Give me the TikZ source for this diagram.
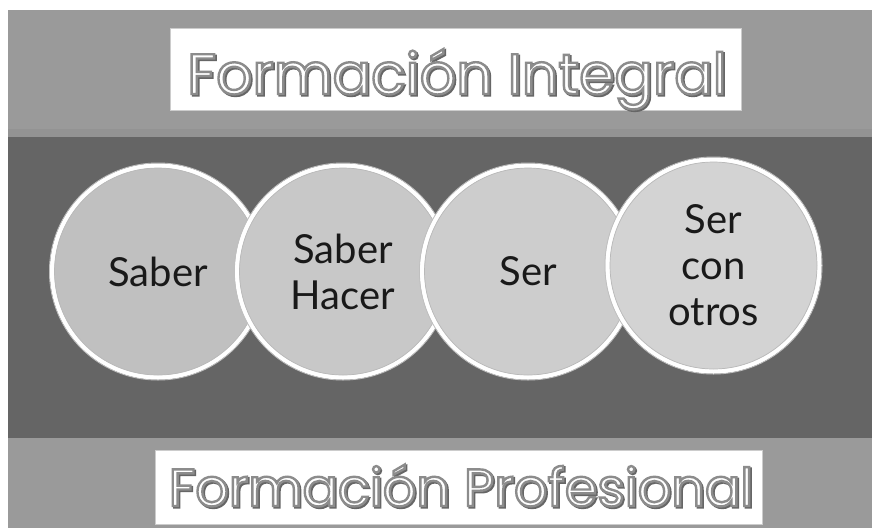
\documentclass[tikz,border=0pt]{standalone}
\usepackage{fontspec}
\setmainfont{Lato}
\newfontfamily\titlefont{Poppins}

\definecolor{bandgray}{HTML}{9A9A9A}
\definecolor{seamgray}{HTML}{939393}
\definecolor{deepgray}{HTML}{656565}
\definecolor{discA}{HTML}{C0C0C0}
\definecolor{discB}{HTML}{C8C8C8}
\definecolor{discC}{HTML}{CDCDCD}
\definecolor{discD}{HTML}{D3D3D3}

% white letters with a grey stroke (text render mode 2)
\newcommand{\outlined}[1]{\textcolor{white}{\special{pdf:literal direct 0.55 G 2 Tr 2.4 w}#1\special{pdf:literal direct 0 Tr}}}
\newcommand{\shadowed}[1]{\textcolor{gray!80!black}{\special{pdf:literal direct 2 Tr 2.4 w}#1\special{pdf:literal direct 0 Tr}}}

\begin{document}
\begin{tikzpicture}
            [x=1pt,y=-1pt,
                disc/.style={circle,draw=white,line width=4.5pt,minimum size=212pt,inner sep=0pt,
                    align=center,text=black!90,font=\fontsize{40}{46}\selectfont},
                rim/.style={gray!55,line width=0.7pt},
                halo/.style={gray!50,line width=0.8pt},
                titlebox/.style={fill=white,draw=gray!40,line width=0.6pt,inner sep=0pt},
                bigtitle/.style={anchor=base,inner sep=0pt,font=\titlefont\fontsize{57}{60}\selectfont},
                smalltitle/.style={anchor=base,inner sep=0pt,font=\titlefont\fontsize{52.5}{56}\selectfont}]
            \useasboundingbox (0,0) rectangle (872,528);

            %draw the bands
            \fill[bandgray] (8,10) rectangle (872,137);
            \fill[seamgray] (8,129) rectangle (872,137);
            \fill[deepgray] (8,137) rectangle (872,438);
            \fill[bandgray] (8,438) rectangle (872,528);

            %draw the title boxes
            \node[titlebox,minimum width=571pt,minimum height=82pt] (topbox) at (455.5,69) {};
            \node[titlebox,minimum width=607pt,minimum height=74pt] (bottombox) at (458.5,487) {};
            \node[bigtitle] (topshade) at (458.5,95.5) {\shadowed{Formación Integral}};
            \node[bigtitle] (toptitle) at (457,94) {\outlined{Formación Integral}};
            \node[smalltitle] (bottomshade) at (462.5,507.5) {\shadowed{Formación Profesional}};
            \node[smalltitle] (bottomtitle) at (461,506) {\outlined{Formación Profesional}};

            %draw the discs, each one over the one before
            \node[disc,fill=discA] (saber) at (158,271.5) {Saber};
            \draw[rim] (saber) circle (103.5pt);
            \draw[halo] (saber) circle (108.6pt);
            \node[disc,fill=discB] (saberhacer) at (343,271.5) {Saber\\Hacer};
            \draw[rim] (saberhacer) circle (103.5pt);
            \draw[halo] (saberhacer) circle (108.6pt);
            \node[disc,fill=discC] (ser) at (528,271.5) {Ser};
            \draw[rim] (ser) circle (103.5pt);
            \draw[halo] (ser) circle (108.6pt);
            \node[disc,fill=discD] (serconotros) at (713.5,265.5) {Ser\\con\\otros};
            \draw[rim] (serconotros) circle (103.5pt);
            \draw[halo] (serconotros) circle (108.6pt);
        \end{tikzpicture}
\end{document}
